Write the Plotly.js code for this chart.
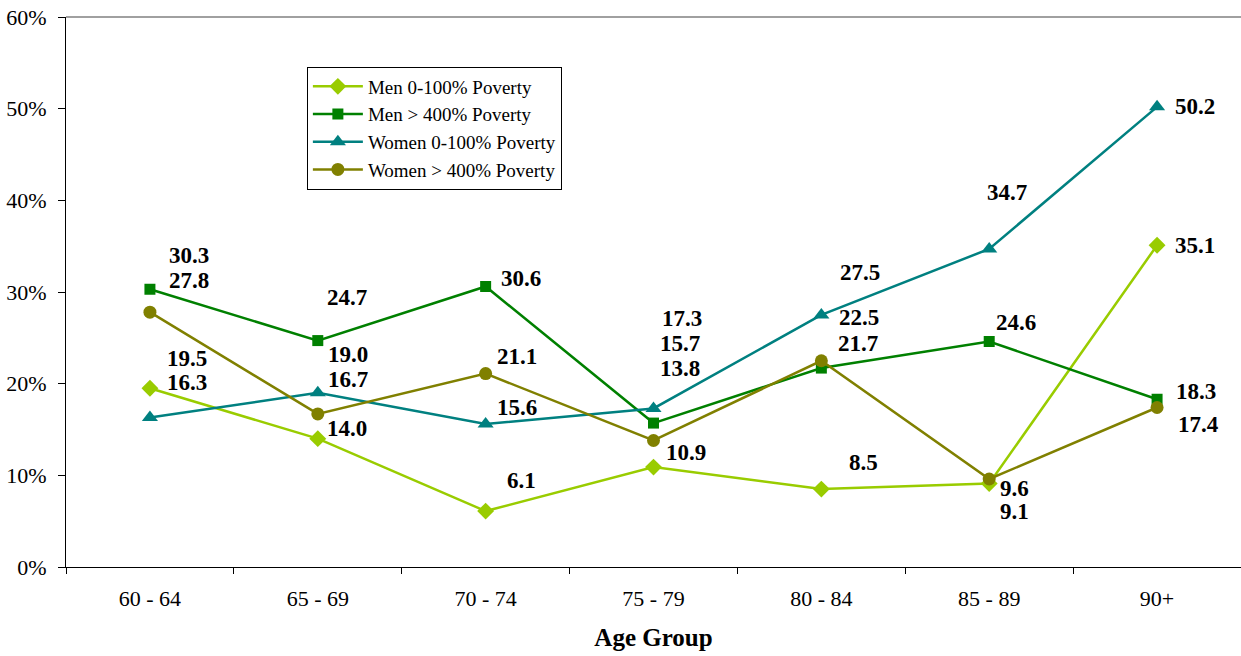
<!DOCTYPE html>
<html>
<head>
<meta charset="utf-8">
<script src="https://cdn.plot.ly/plotly-3.0.1.min.js"></script>
<style>html,body{margin:0;padding:0;background:#fff;}#chart{width:1241px;height:656px;}</style>
</head>
<body>
<div id="chart"></div>
<script>
const ageGroups = ["60 - 64", "65 - 69", "70 - 74", "75 - 79", "80 - 84", "85 - 89", "90+"];
const menPoor = [19.5, 14.0, 6.1, 10.9, 8.5, 9.1, 35.1];
const menRich = [30.3, 24.7, 30.6, 15.7, 21.7, 24.6, 18.3];
const womenPoor = [16.3, 19.0, 15.6, 17.3, 27.5, 34.7, 50.2];
const womenRich = [27.8, 16.7, 21.1, 13.8, 22.5, 9.6, 17.4];
const seriesNames = ["Men 0-100% Poverty", "Men > 400% Poverty", "Women 0-100% Poverty", "Women > 400% Poverty"];

const SERIF = "Liberation Serif";

const series = [
  {name: seriesNames[0], y: menPoor, color: "#99CC00", symbol: "diamond", size: 13,
   off: [[37,30],[29,10],[36,31],[32,15],[42,27],[25,-28],[38,0]]},
  {name: seriesNames[1], y: menRich, color: "#008000", symbol: "square", size: 11,
   off: [[39,34],[29,43],[35,8],[26,80],[37,25],[27,19],[39,8]]},
  {name: seriesNames[2], y: womenPoor, color: "#008080", symbol: "triangle-up", size: 14,
   off: [[37,35],[30,38],[31,17],[28,90],[39,42],[18,56],[38,0]]},
  {name: seriesNames[3], y: womenRich, color: "#808000", symbol: "circle", size: 13,
   off: [[39,32],[30,34],[31,17],[26,72],[38,43],[25,-9],[41,-17]]}
];

const traces = series.map(s => ({
  type: "scatter", mode: "lines+markers", name: s.name,
  x: ageGroups, y: s.y,
  line: {color: s.color, width: 2.5},
  marker: {color: s.color, symbol: s.symbol, size: s.size}
}));

const annotations = [];
series.forEach(s => {
  s.y.forEach((v, i) => {
    annotations.push({
      x: ageGroups[i], y: v, xref: "x", yref: "y",
      text: "<b>" + v.toFixed(1) + "</b>", showarrow: false,
      xshift: s.off[i][0], yshift: s.off[i][1],
      font: {family: SERIF, size: 23, color: "#000"},
      xanchor: "center", yanchor: "middle"
    });
  });
});

const layout = {
  width: 1241, height: 656,
  margin: {l: 66, r: 0, t: 17, b: 89},
  paper_bgcolor: "#fff", plot_bgcolor: "#fff",
  font: {family: SERIF, color: "#000"},
  showlegend: true,
  legend: {
    x: 0.205, y: 0.91, xanchor: "left", yanchor: "top",
    bgcolor: "#fff", bordercolor: "#000", borderwidth: 1,
    font: {family: SERIF, size: 19, color: "#000"},
    tracegroupgap: 0, itemwidth: 50
  },
  xaxis: {
    type: "category", showgrid: false, zeroline: false,
    showline: true, linecolor: "#000", linewidth: 1,
    ticks: "outside", tickson: "boundaries", ticklen: 6, tickcolor: "#000",
    tickfont: {family: SERIF, size: 22}, ticklabelstandoff: 12, range: [-0.5, 6.5],
    automargin: false,
    title: {text: "<b>Age Group</b>", font: {family: SERIF, size: 25}, standoff: 18}
  },
  yaxis: {
    range: [0, 60], dtick: 10, ticksuffix: "%",
    showgrid: false, zeroline: false,
    showline: true, linecolor: "#000", linewidth: 1,
    ticks: "outside", ticklen: 7, tickcolor: "#000",
    tickfont: {family: SERIF, size: 22}, ticklabelstandoff: 7,
    automargin: false
  },
  shapes: [{type: "line", xref: "paper", yref: "paper", x0: 0, x1: 1, y0: 1, y1: 1,
            line: {color: "#a0a0a0", width: 2}}],
  annotations: annotations
};

Plotly.newPlot("chart", traces, layout, {displayModeBar: false, staticPlot: true});
</script>
</body>
</html>
